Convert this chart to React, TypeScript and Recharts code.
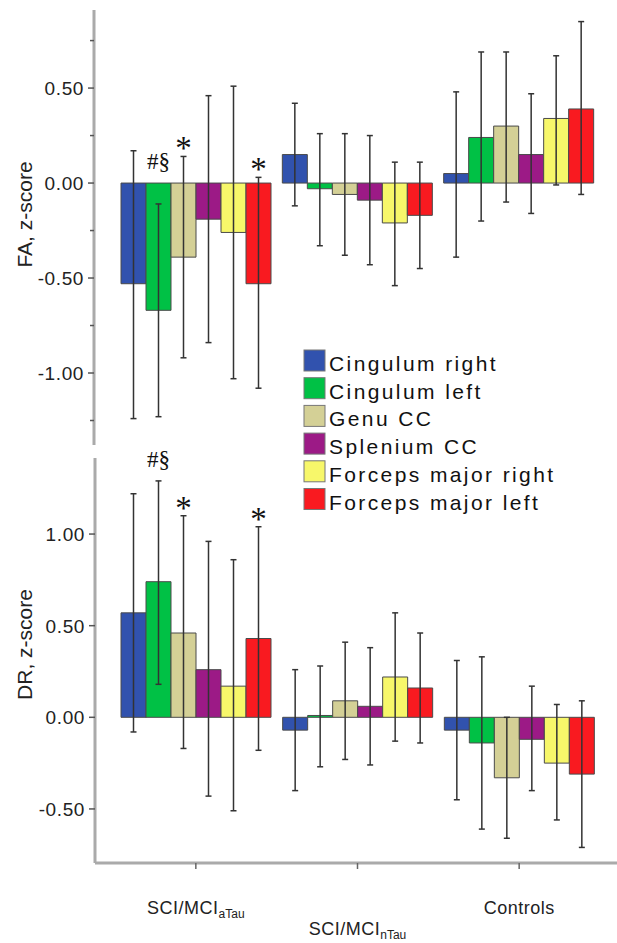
import React from 'react'
import { BarChart, Bar, XAxis, YAxis, ErrorBar, LabelList, Label } from 'recharts'

const groupLabels = ['SCI/MCI', 'SCI/MCI', 'Controls']
const groupSubs = ['aTau', 'nTau', '']
const tracts = ['Cingulum right', 'Cingulum left', 'Genu CC', 'Splenium CC', 'Forceps major right', 'Forceps major left']
const colors = ['#3152ae', '#00c145', '#d4d096', '#9c1a86', '#f7f76a', '#f91a20']

// rows = tracts, columns = groups
const faMean = [
  [-0.53, 0.15, 0.05],
  [-0.67, -0.03, 0.24],
  [-0.39, -0.06, 0.30],
  [-0.19, -0.09, 0.15],
  [-0.26, -0.21, 0.34],
  [-0.53, -0.17, 0.39],
]
const faHigh = [
  [0.17, 0.42, 0.48],
  [-0.11, 0.26, 0.69],
  [0.14, 0.26, 0.69],
  [0.46, 0.25, 0.47],
  [0.51, 0.11, 0.67],
  [0.03, 0.11, 0.85],
]
const faLow = [
  [-1.24, -0.12, -0.39],
  [-1.23, -0.33, -0.20],
  [-0.92, -0.38, -0.10],
  [-0.84, -0.43, -0.16],
  [-1.03, -0.54, -0.01],
  [-1.08, -0.45, -0.06],
]
const faMarks = [
  ['', '', ''],
  ['#§', '', ''],
  ['*', '', ''],
  ['', '', ''],
  ['', '', ''],
  ['*', '', ''],
]

const drMean = [
  [0.57, -0.07, -0.07],
  [0.74, 0.01, -0.14],
  [0.46, 0.09, -0.33],
  [0.26, 0.06, -0.12],
  [0.17, 0.22, -0.25],
  [0.43, 0.16, -0.31],
]
const drHigh = [
  [1.22, 0.26, 0.31],
  [1.29, 0.28, 0.33],
  [1.10, 0.41, 0.00],
  [0.96, 0.38, 0.17],
  [0.86, 0.57, 0.07],
  [1.04, 0.46, 0.09],
]
const drLow = [
  [-0.08, -0.40, -0.45],
  [0.18, -0.27, -0.61],
  [-0.17, -0.23, -0.66],
  [-0.43, -0.26, -0.40],
  [-0.51, -0.13, -0.56],
  [-0.18, -0.14, -0.71],
]
const drMarks = [
  ['', '', ''],
  ['#§', '', ''],
  ['*', '', ''],
  ['', '', ''],
  ['', '', ''],
  ['*', '', ''],
]

const faTicks = [-1.25, -1, -0.75, -0.5, -0.25, 0, 0.25, 0.5, 0.75]
const drTicks = [-0.5, 0, 0.5, 1]

const sans = 'Liberation Sans, Arial, Helvetica, sans-serif'
const serif = 'Liberation Serif, Times New Roman, serif'

function buildRows(mean: number[][], low: number[][], high: number[][], marks: string[][]) {
  return groupLabels.map((g, gi) => {
    const row: any = { key: g + groupSubs[gi] }
    tracts.forEach((_, ti) => {
      row['v' + ti] = mean[ti][gi]
      row['e' + ti] = [mean[ti][gi] - low[ti][gi], high[ti][gi] - mean[ti][gi]]
      row['m' + ti] = marks[ti][gi]
    })
    return row
  })
}

const faRows = buildRows(faMean, faLow, faHigh, faMarks)
const drRows = buildRows(drMean, drLow, drHigh, drMarks)

// places the significance marks just above the bar / whisker top
const markContent = (mean: number[][], high: number[][], ti: number) => (props: any) => {
  const { x, y, width, height, value, index } = props
  if (!value) return null
  const v = mean[ti][index]
  const ppu = Math.abs(height) / Math.abs(v)
  const top = Math.min(y, y + height)
  const bottom = Math.max(y, y + height)
  const zero = v >= 0 ? bottom : top
  const peak = Math.max(0, v, high[ti][index])
  const star = value === '*'
  const base = zero - peak * ppu + (star ? 3 : -14)
  return (
    <text
      x={x + width / 2}
      y={base}
      textAnchor="middle"
      fontFamily={serif}
      fontSize={star ? 33 : 23}
      fill="#111"
    >
      {value}
    </text>
  )
}

const YTick = (props: any) => {
  const { x, y, payload } = props
  const v = payload.value
  const major = Math.abs(v * 2 - Math.round(v * 2)) < 1e-6
  return (
    <g>
      <line x1={x - (major ? 6 : 4)} x2={x} y1={y} y2={y} stroke="#555" strokeWidth={1.5} />
      {major && (
        <text
          x={x - 10}
          y={y}
          dy={7}
          textAnchor="end"
          fontFamily={sans}
          fontSize={19}
          letterSpacing={0.6}
          fill="#222"
        >
          {v.toFixed(2)}
        </text>
      )}
    </g>
  )
}

const GroupTick = (props: any) => {
  const { x, y, index } = props
  const drop = index === 1 ? 64 : 43
  return (
    <text x={x} y={y + drop} textAnchor="middle" fontFamily={sans} fontSize={18} letterSpacing={0.5} fill="#222">
      {groupLabels[index]}
      {groupSubs[index] && (
        <tspan dy={4} fontSize={12} letterSpacing={0}>
          {groupSubs[index]}
        </tspan>
      )}
    </text>
  )
}

const axisLabel = (text: string, shift: number) => (props: any) => {
  const vb = props.viewBox
  const cy = vb.y + vb.height / 2 + shift
  return (
    <text
      transform={`translate(24, ${cy}) rotate(-90)`}
      textAnchor="middle"
      dominantBaseline="central"
      fontFamily={sans}
      fontSize={21}
      fill="#222"
    >
      {text}
    </text>
  )
}

function bars(mean: number[][], high: number[][]) {
  return tracts.map((t, ti) => (
    <Bar
      key={t}
      dataKey={'v' + ti}
      name={t}
      fill={colors[ti]}
      stroke="#4a4a4a"
      strokeWidth={1}
      isAnimationActive={false}
    >
      <ErrorBar dataKey={'e' + ti} width={3} stroke="#333" strokeWidth={1.5} />
      <LabelList dataKey={'m' + ti} content={markContent(mean, high, ti)} />
    </Bar>
  ))
}

export default function App() {
  return (
    <div style={{ position: 'absolute', left: 0, top: 0, width: 617, height: 943, background: '#fff' }}>
      <div style={{ position: 'absolute', left: 0, top: 0 }}>
        <BarChart
          width={617}
          height={445}
          data={faRows}
          margin={{ top: 10, right: 0, bottom: 0, left: 0 }}
          barGap={0}
          barSize={25}
        >
          <XAxis dataKey="key" hide padding={{ left: 21, right: 18 }} />
          <YAxis
            width={94}
            domain={[-1.379, 0.911]}
            allowDataOverflow
            ticks={faTicks}
            interval={0}
            tickSize={0}
            tickMargin={0}
            tickLine={false}
            tick={<YTick />}
            axisLine={{ stroke: '#aaa', strokeWidth: 3 }}
          >
            <Label content={axisLabel('FA, z-score', -13)} />
          </YAxis>
          {bars(faMean, faHigh)}
        </BarChart>
      </div>
      <div style={{ position: 'absolute', left: 0, top: 445 }}>
        <BarChart
          width={617}
          height={498}
          data={drRows}
          margin={{ top: 13, right: 0, bottom: 0, left: 0 }}
          barGap={0}
          barSize={25}
        >
          <XAxis
            dataKey="key"
            height={80}
            padding={{ left: 20, right: 17 }}
            interval={0}
            tickSize={6}
            tickMargin={2}
            tickLine={{ stroke: '#666', strokeWidth: 1.5 }}
            axisLine={{ stroke: '#aaa', strokeWidth: 3 }}
            tick={<GroupTick />}
          />
          <YAxis
            width={95}
            domain={[-0.795, 1.415]}
            allowDataOverflow
            ticks={drTicks}
            interval={0}
            tickSize={0}
            tickMargin={0}
            tickLine={false}
            tick={<YTick />}
            axisLine={{ stroke: '#aaa', strokeWidth: 3 }}
          >
            <Label content={axisLabel('DR, z-score', -16)} />
          </YAxis>
          {bars(drMean, drHigh)}
        </BarChart>
      </div>
      <svg
        width={617}
        height={943}
        style={{ position: 'absolute', left: 0, top: 0, pointerEvents: 'none' }}
      >
        {tracts.map((t, i) => (
          <g key={t}>
            <rect x={304} y={350 + i * 27.7} width={21} height={21} fill={colors[i]} stroke="#777" strokeWidth={1} />
            <text
              x={329}
              y={371 + i * 27.7}
              fontFamily={sans}
              fontSize={21}
              letterSpacing={2.4}
              fill="#111"
            >
              {t}
            </text>
          </g>
        ))}
      </svg>
    </div>
  )
}
